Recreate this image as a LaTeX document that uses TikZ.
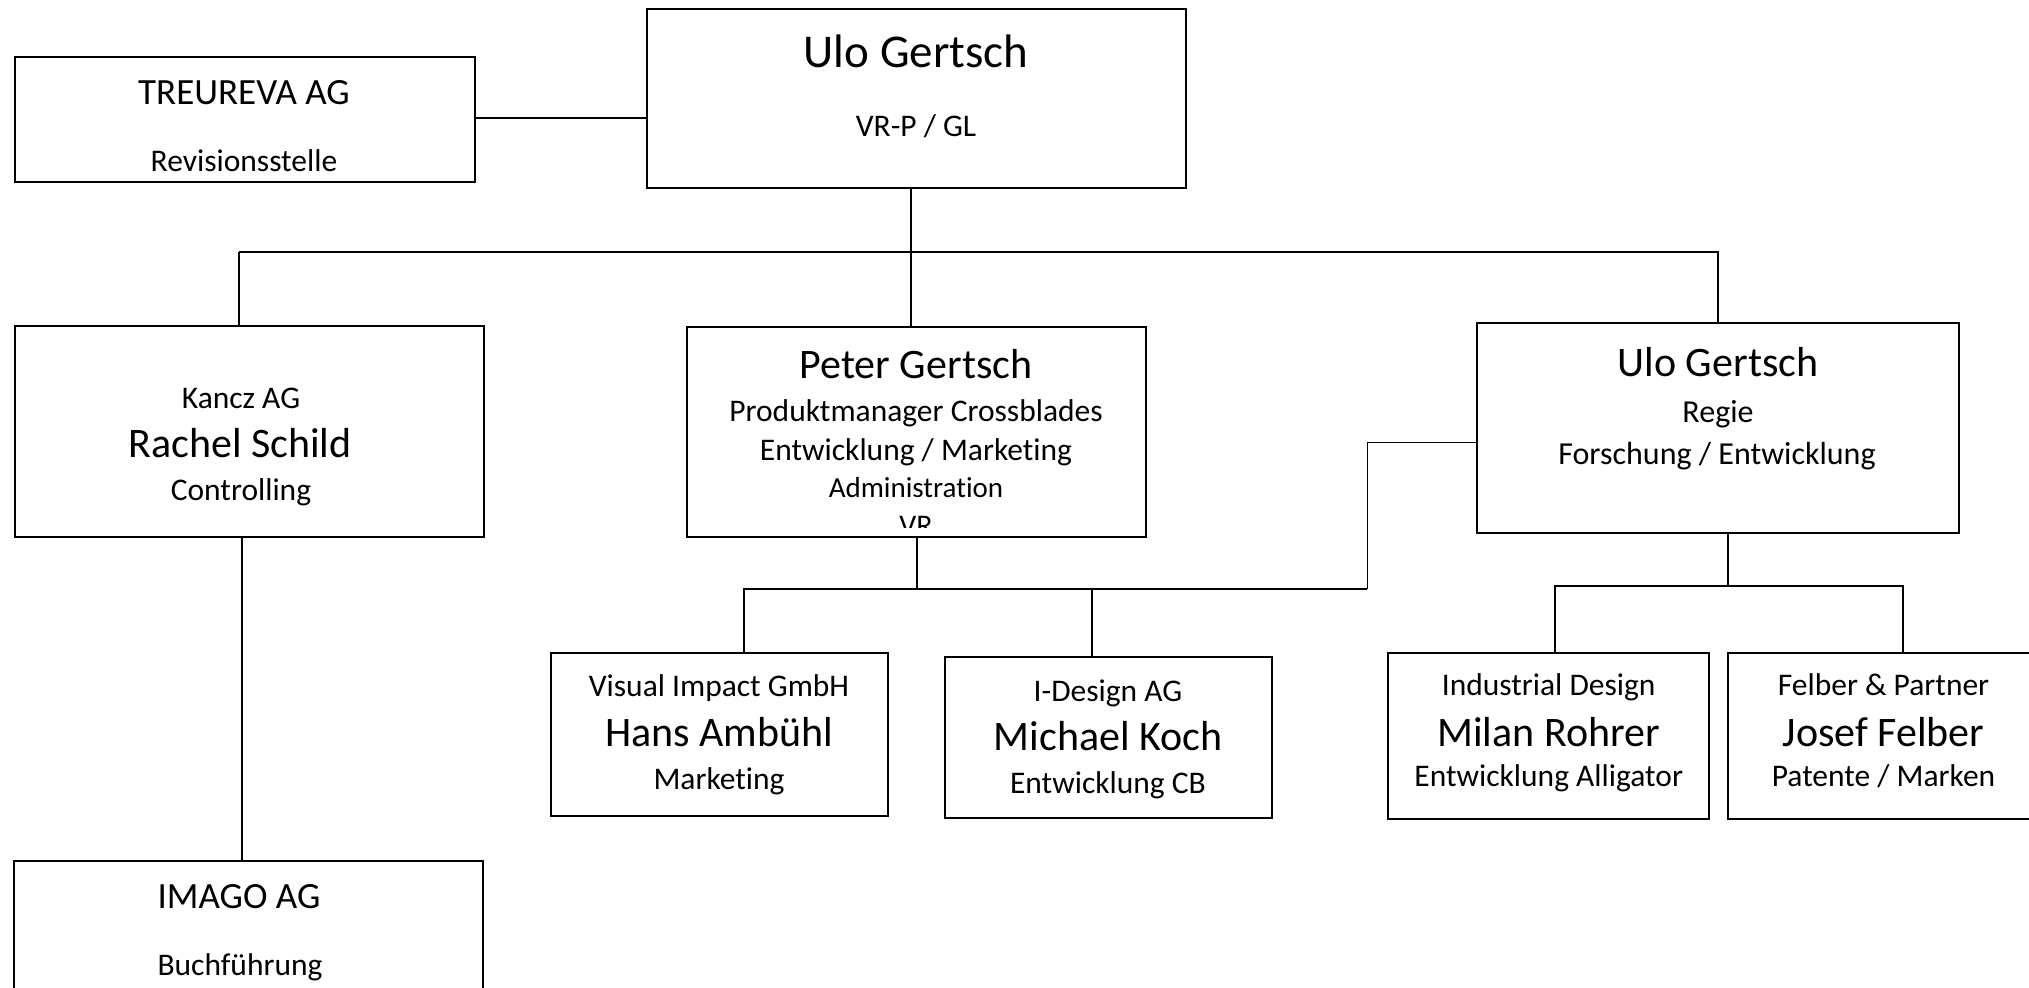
\documentclass[tikz,border=0pt]{standalone}
\usepackage{fontspec}
\setmainfont{Carlito}[Ligatures=NoCommon]
\usetikzlibrary{fit}
\begin{document}
\begin{tikzpicture}[x=0.5pt,y=-0.5pt,
  box/.style={draw=black,line width=1pt,inner sep=0pt,outer sep=0pt},
  conn/.style={draw=black,line width=0.95pt},
  thinconn/.style={draw=black,line width=0.55pt},
  txtline/.style={inner sep=0pt,anchor=base},
  smtxt/.style={txtline,font=\fontsize{15.75pt}{18pt}\selectfont},
  nmtxt/.style={txtline,font=\fontsize{21pt}{24pt}\selectfont},
  bgtxt/.style={txtline,font=\fontsize{23.5pt}{27pt}\selectfont},
  mdtxt/.style={txtline,font=\fontsize{18.5pt}{21pt}\selectfont}]
\clip (0,0) rectangle (2029,988);
\fill[white] (0,0) rectangle (2029,988);

% boxes
\node[box,fit={(15.3,57.3) (474.5,181.7)}] (treu) {};
\node[box,fit={(646.7,9.3) (1186,187.7)}] (ulo) {};
\node[box,fit={(15.3,326) (484.4,536.7)}] (kancz) {};
\node[box,fit={(687.2,327) (1145.6,537.3)}] (peter) {};
\node[box,fit={(1477.4,323) (1959,533.3)}] (rulo) {};
\node[box,fit={(14.1,860.7) (483.3,1005)}] (imago) {};
\node[box,fit={(551.3,653.3) (887.5,816)}] (visual) {};
\node[box,fit={(945,657.3) (1271.5,817.7)}] (idesign) {};
\node[box,fit={(1388.3,653) (1709,819.3)}] (ind) {};
\node[box,fit={(1728.2,653.3) (2039,819.3)}] (felber) {};

% texts
\node[mdtxt] (t1) at (244,105) {TREUREVA AG};
\node[smtxt] (t2) at (244,172) {Revisionsstelle};

\node[bgtxt] (u1) at (916,68) {Ulo Gertsch};
\node[smtxt] (u2) at (916,136.5) {VR-P / GL};

\node[smtxt] (k1) at (241,409) {Kancz AG};
\node[nmtxt] (k2) at (240,458) {Rachel Schild};
\node[smtxt] (k3) at (241,501) {Controlling};

\node[nmtxt] (p1) at (916,379) {Peter Gertsch};
\node[smtxt] (p2) at (916,422) {Produktmanager Crossblades};
\node[smtxt] (p3) at (916,460.5) {Entwicklung / Marketing};
\node[txtline,font=\fontsize{14.5pt}{17pt}\selectfont] (p4) at (916,498) {Administration};
\begin{scope}
\clip (690,500) rectangle (1140,527.3);
\node[txtline,font=\fontsize{15pt}{17pt}\selectfont] (p5) at (916,536) {VR};
\end{scope}

\node[nmtxt] (r1) at (1718,376.5) {Ulo Gertsch};
\node[txtline,font=\fontsize{16pt}{19pt}\selectfont] (r2) at (1718,422.5) {Regie};
\node[txtline,font=\fontsize{16pt}{19pt}\selectfont] (r3) at (1717,464.5) {Forschung / Entwicklung};

\node[mdtxt] (i1) at (239,908) {IMAGO AG};
\node[smtxt] (i2) at (240,975) {Buchführung};

\node[smtxt] (v1) at (719,696.5) {Visual Impact GmbH};
\node[nmtxt] (v2) at (719,746) {Hans Ambühl};
\node[smtxt] (v3) at (719,789) {Marketing};

\node[smtxt] (d1) at (1108,701) {I-Design AG};
\node[nmtxt] (d2) at (1108,750) {Michael Koch};
\node[smtxt] (d3) at (1108,793) {Entwicklung CB};

\node[smtxt] (n1) at (1548.7,695.5) {Industrial Design};
\node[nmtxt] (n2) at (1548.7,746.5) {Milan Rohrer};
\node[smtxt] (n3) at (1548.7,786.5) {Entwicklung Alligator};

\node[smtxt] (f1) at (1883.5,695.5) {Felber \& Partner};
\node[nmtxt] (f2) at (1883.5,746.5) {Josef Felber};
\node[smtxt] (f3) at (1883.5,786.5) {Patente / Marken};

% connectors
\coordinate (b1l) at (239,251.7);
\coordinate (b1r) at (1718,251.7);
\coordinate (b2l) at (744,589.3);
\coordinate (b2r) at (1367.2,589.3);
\coordinate (b2m) at (917,589.3);
\coordinate (b2d) at (1092,589.3);
\coordinate (side) at (1367.2,442.7);
\coordinate (b3l) at (1555,586);
\coordinate (b3r) at (1903,586);
\coordinate (b3m) at (1728,586);

\draw[conn] (treu.east |- 0,118.3) -- (ulo.west |- 0,118.3);
\draw[conn] (911,0 |- ulo.south) -- (911,0 |- peter.north);
\draw[conn] (b1l) -- (b1r) -- (b1r |- rulo.north);
\draw[thinconn] (b1l) -- (b1l |- kancz.north);
\draw[thinconn] (242,0 |- kancz.south) -- (242,0 |- imago.north);
\draw[conn] (b2m |- peter.south) -- (b2m);
\draw[conn] (b2l |- visual.north) -- (b2l) -- (b2r);
\draw[thinconn] (b2d) -- (b2d |- idesign.north);
\draw[thinconn] (rulo.west |- side) -- (side) -- (b2r);
\draw[conn] (b3m |- rulo.south) -- (b3m);
\draw[conn] (b3l |- ind.north) -- (b3l) -- (b3r) -- (b3r |- felber.north);
\end{tikzpicture}
\end{document}
